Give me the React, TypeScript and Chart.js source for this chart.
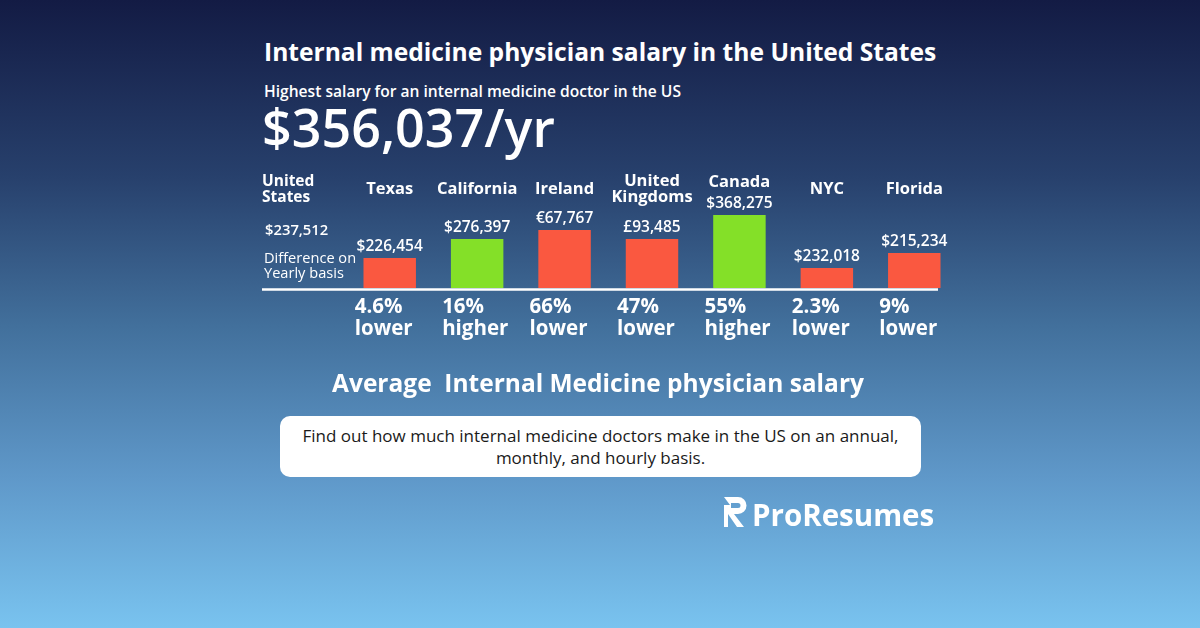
import React, { useEffect, useRef } from "react";
import { Chart, registerables } from "chart.js";

Chart.register(...registerables);

// ---- data ----
const categories: string[][] = [
  ["Texas"],
  ["California"],
  ["Ireland"],
  ["United", "Kingdoms"],
  ["Canada"],
  ["NYC"],
  ["Florida"],
];
const salaryLabels: string[] = ["$226,454", "$276,397", "€67,767", "£93,485", "$368,275", "$232,018", "$215,234"];
// relative bar heights as drawn in the infographic
const barHeights: number[] = [30, 49, 58, 49, 73, 20, 35];
const diffPercent: string[] = ["4.6%", "16%", "66%", "47%", "55%", "2.3%", "9%"];
const diffDirection: string[] = ["lower", "higher", "lower", "lower", "higher", "lower", "lower"];
const usSalary = "$237,512";
const highestSalary = "$356,037/yr";

const RED = "#fa5840";
const GREEN = "#84e028";
const FONT = "'Open Sans', 'Noto Sans', sans-serif";

const labelPlugin = {
  id: "infoLabels",
  afterDatasetsDraw(chart: any) {
    const ctx = chart.ctx as CanvasRenderingContext2D;
    const xs = chart.scales.x;
    const ys = chart.scales.y;
    const zero = ys.getPixelForValue(0);
    const meta = chart.getDatasetMeta(0);
    ctx.save();
    // baseline
    ctx.strokeStyle = "#ffffff";
    ctx.lineWidth = 2.5;
    ctx.beginPath();
    ctx.moveTo(262, zero + 1.5);
    ctx.lineTo(938, zero + 1.5);
    ctx.stroke();

    ctx.fillStyle = "#ffffff";
    categories.forEach((lines, i) => {
      const x = xs.getPixelForValue(i);
      const top = meta.data[i].y;
      const valueY = top - 11;
      // category names
      ctx.font = `700 16.5px ${FONT}`;
      ctx.textAlign = "center";
      ctx.textBaseline = "middle";
      const center = Math.min(189, valueY - 22);
      const start = center - ((lines.length - 1) * 16) / 2;
      lines.forEach((l, k) => ctx.fillText(l, x, start + k * 16));
      // salary value above bar
      ctx.font = `600 15.5px ${FONT}`;
      ctx.fillText(salaryLabels[i], x, valueY);
      // difference below baseline
      ctx.font = `700 20.5px ${FONT}`;
      ctx.textAlign = "left";
      ctx.fillText(diffPercent[i], x - 35, zero + 19);
      ctx.fillText(diffDirection[i], x - 35, zero + 41);
    });
    ctx.restore();
  },
};

function BarChart() {
  const ref = useRef<HTMLCanvasElement>(null);
  useEffect(() => {
    if (!ref.current) return;
    const chart = new Chart(ref.current, {
      type: "bar",
      data: {
        labels: categories.map((c) => c.join(" ")),
        datasets: [
          {
            data: barHeights,
            backgroundColor: diffDirection.map((d) => (d === "higher" ? GREEN : RED)),
            borderWidth: 0,
            barPercentage: 0.6,
            categoryPercentage: 1,
          },
        ],
      },
      options: {
        responsive: false,
        animation: false,
        layout: { padding: { left: 346, right: 242, top: 188, bottom: 340 } },
        plugins: { legend: { display: false }, tooltip: { enabled: false } },
        scales: {
          x: { display: false },
          y: { display: false, min: 0, max: 100 },
        },
      },
      plugins: [labelPlugin],
    });
    return () => chart.destroy();
  }, []);
  return (
    <canvas
      ref={ref}
      width={1200}
      height={628}
      style={{ position: "absolute", left: 0, top: 0, width: 1200, height: 628 }}
    />
  );
}

function Logo() {
  return (
    <div style={{ position: "absolute", left: 724, top: 497, display: "flex", alignItems: "center" }}>
      <svg width="26" height="30" viewBox="0 0 26 30">
        <path d="M0 0 H14 A8.5 8.5 0 0 1 14 17 H10 L20 30 H13 L4 17 V30 H0 V8 L6 8 Z M7 6 V11 H14 A2.5 2.5 0 0 0 14 6 Z" fill="#ffffff" fillRule="evenodd" />
      </svg>
    </div>
  );
}

const abs = (s: React.CSSProperties): React.CSSProperties => ({ position: "absolute", color: "#ffffff", fontFamily: FONT, whiteSpace: "pre", ...s });

export default function App() {
  return (
    <div
      style={{
        position: "absolute",
        left: 0,
        top: 0,
        width: 1200,
        height: 628,
        overflow: "hidden",
        background: "linear-gradient(180deg, #131b44 0%, #27406c 28%, #42709c 52%, #5f98c9 76%, #79c3ef 100%)",
      }}
    >
      <div style={abs({ left: 264, top: 36, fontSize: 24.6, lineHeight: "32px", fontWeight: 700 })}>
        Internal medicine physician salary in the United States
      </div>
      <div style={abs({ left: 264, top: 80, fontSize: 15.6, lineHeight: "22px", fontWeight: 600 })}>
        Highest salary for an internal medicine doctor in the US
      </div>
      <div style={abs({ left: 262, top: 97, fontSize: 52, lineHeight: "60px", fontWeight: 600 })}>{highestSalary}</div>

      <BarChart />

      <div style={abs({ left: 262, top: 172, fontSize: 15.5, lineHeight: "16px", fontWeight: 700 })}>{"United\nStates"}</div>
      <div style={abs({ left: 265, top: 219, fontSize: 14.8, lineHeight: "20px", fontWeight: 600 })}>{usSalary}</div>
      <div style={abs({ left: 264, top: 250, fontSize: 14.6, lineHeight: "15px", fontWeight: 400 })}>
        {"Difference on\nYearly basis"}
      </div>

      <div style={abs({ left: 0, width: 1196, textAlign: "center", top: 366, fontSize: 24.5, lineHeight: "34px", fontWeight: 700 })}>
        {"Average  Internal Medicine physician salary"}
      </div>

      <div
        style={{
          position: "absolute",
          left: 280,
          top: 416,
          width: 641,
          height: 61,
          borderRadius: 10,
          background: "#ffffff",
          color: "#1a1a1a",
          fontFamily: FONT,
          fontSize: 17,
          lineHeight: "22px",
          textAlign: "center",
          paddingTop: 9,
          boxSizing: "border-box",
          whiteSpace: "pre",
        }}
      >
        Find out how much internal medicine doctors make in the US on an annual,
        <br />
        monthly, and hourly basis.
      </div>

      <Logo />
      <div style={abs({ left: 752, top: 496, fontSize: 29.5, lineHeight: "38px", fontWeight: 700 })}>ProResumes</div>
    </div>
  );
}
